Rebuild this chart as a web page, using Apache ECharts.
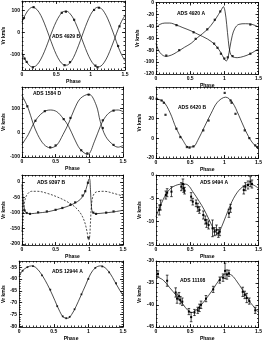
<!DOCTYPE html>
<html><head><meta charset="utf-8">
<script src="https://cdn.jsdelivr.net/npm/echarts@6/dist/echarts.min.js"></script>
<style>html,body{margin:0;padding:0;background:#fff}#c{width:265px;height:342px}</style>
</head><body><div id="c"></div>
<script>
// ---------- data ----------
const xTicks = [0, 0.5, 1, 1.5];

// Panel 1 (ADS 4929 B)
const p1Phase = [0,0.05,0.1,0.15,0.2,0.25,0.3,0.35,0.4,0.45,0.5,0.55,0.6,0.65,0.7,0.75,0.8,0.85,0.9,0.95,1,1.05,1.1,1.15,1.2,1.25,1.3,1.35,1.4,1.45,1.5];
const p1CurveA = [47,81,105,115,110,92,62,23,-20,-63,-101,-130,-147,-150,-139,-115,-79,-38,6,47,82,105,115,111,92,62,23,-20,-65,-102,-130];
const p1CurveB = [-93,-126,-148,-158,-154,-136,-107,-70,-28,14,50,78,95,97,86,63,29,-11,-53,-93,-126,-148,-158,-154,-136,-107,-69,-28,15,51,78];
const p1PointsA = [[0.03,66],[0.17,116],[0.62,-150],[0.70,-136],[1.05,103],[1.12,113],[1.40,-62]];
const p1PointsB = [[0.04,-120],[0.07,-135],[0.16,-160],[0.58,90],[0.64,95],[0.76,58],[1.07,-152],[1.10,-160],[1.42,28]];
const p1YTicks = [-100,0,100];

// Panel 2 (ADS 4920 A)
const p2CurveA = [[0,-42.2],[0.058,-36.7],[0.13,-34.5],[0.202,-34.5],[0.298,-37.8],[0.394,-42.2],[0.514,-47.7],[0.611,-53.2],[0.755,-61.4],[0.851,-69.6],[0.923,-79.5],[0.971,-88.8],[1.005,-95.9],[1.029,-98.1],[1.053,-92.6],[1.082,-75.1],[1.115,-55.9],[1.154,-43.3],[1.212,-36.7],[1.308,-35.6],[1.404,-36.7],[1.5,-41.1]];
const p2CurveB = [[0,-68.5],[0.034,-79.5],[0.082,-87.1],[0.144,-90.4],[0.226,-88.2],[0.298,-83.8],[0.418,-75.1],[0.514,-68.5],[0.611,-58.6],[0.755,-44.9],[0.851,-31.2],[0.913,-20.3],[0.957,-12.1],[0.986,-7.1],[1.01,-14.8],[1.034,-36.7],[1.058,-64.1],[1.082,-83.3],[1.115,-90.4],[1.188,-92.6],[1.284,-90.4],[1.38,-86],[1.5,-77.8]];
const p2PointsA = [[0.30,-38],[0.55,-50],[0.85,-69],[0.90,-76],[0.95,-86],[1.00,-94],[1.05,-92],[1.38,-37]];
const p2PointsB = [[0.15,-89],[0.34,-80],[0.58,-61],[0.75,-45],[0.86,-29],[0.94,-15],[1.12,-90],[1.38,-86]];
const p2YTicks = [-120,-100,-80,-60,-40,-20,0];

// Panel 3 (ADS 1584 D)
const p3CurveA = [[0,156],[0.094,101.5],[0.164,40.2],[0.234,-7.4],[0.328,-48.3],[0.422,-61.9],[0.516,-51],[0.609,-7.4],[0.694,40.2],[0.773,94.7],[0.867,142.3],[0.994,160],[1.102,115.1],[1.163,47],[1.242,-14.2],[1.359,-51],[1.43,-59.2],[1.5,-52.3]];
const p3CurveB = [[0,-48.3],[0.094,-7.4],[0.164,33.4],[0.234,63.4],[0.328,87.9],[0.422,94.7],[0.516,87.9],[0.609,60.7],[0.694,26.6],[0.773,-21],[0.867,-68.7],[0.975,-89.1],[1.078,-34.6],[1.163,26.6],[1.242,67.5],[1.336,90.6],[1.43,94.7],[1.5,87.9]];
const p3PointsA = [[0.08,110],[0.42,-60],[0.50,-52],[0.72,62],[0.99,158],[1.20,20],[1.36,-50]];
const p3PointsB = [[0.20,50],[0.34,90],[0.62,57],[0.88,-72],[0.97,-85],[1.20,52],[1.36,92]];
const p3YTicks = [-100,0,100];

// Panel 4 (ADS 6420 B)
const p4Curve = [[0,40],[0.106,37.3],[0.202,26.5],[0.298,9.7],[0.394,-2.1],[0.476,-8.9],[0.548,-8.5],[0.611,-2.1],[0.707,11.4],[0.803,24.8],[0.899,36.6],[1.019,41.7],[1.115,36.6],[1.212,23.2],[1.308,8],[1.404,-3.8],[1.5,-10.6]];
const p4Points = [[0.01,40],[0.082,38.3],[0.115,36],[0.139,23.8],[0.298,9.7],[0.356,1.2],[0.452,-8.9],[0.49,-9.5],[0.548,-8.2],[0.692,8],[0.769,18],[1.005,46],[1.091,38.3],[1.106,36],[1.163,24.8],[1.298,8],[1.365,0.2],[1.452,-7.2],[1.481,-8.9]];
const p4YTicks = [-20,0,20,40];

// Panel 5 (ADS 9397 B)
const p5CurveSolid = [[0,-7.6],[0.019,-56.5],[0.038,-89.1],[0.07,-100],[0.141,-102.2],[0.234,-100],[0.375,-96.7],[0.516,-89.1],[0.656,-80.4],[0.774,-69.6],[0.867,-56.5],[0.928,-37],[0.966,-13],[0.989,6.5],[1.003,10.9],[1.017,-23.9],[1.031,-78.3],[1.05,-97.8],[1.102,-102.2],[1.219,-100],[1.36,-96.7],[1.5,-91.3]];
const p5CurveDashed = [[0,-159.8],[0.019,-110.9],[0.038,-67.4],[0.07,-43.5],[0.141,-30.4],[0.234,-30.4],[0.375,-37],[0.516,-47.8],[0.656,-62],[0.774,-78.3],[0.867,-100],[0.928,-127.2],[0.966,-159.8],[0.989,-187],[1.003,-181.5],[1.017,-132.6],[1.031,-78.3],[1.055,-45.7],[1.102,-32.6],[1.219,-30.4],[1.36,-37],[1.5,-45.7]];
const p5Points = [[0.04,-92],[0.07,-100],[0.12,-103],[0.24,-98],[0.37,-95],[0.50,-90],[0.60,-84],[0.72,-74],[0.79,-66],[0.90,-44],[0.94,-30],[0.98,-3],[0.99,-180],[1.06,-99],[1.10,-103],[1.25,-99],[1.36,-95]];
const p5YTicks = [-200,-150,-100,-50,0];

// Panel 6 (ADS 9494 A)
const p6Curve = [[0,-8.93],[0.058,-6.79],[0.154,-3.93],[0.25,-2.5],[0.394,-1.93],[0.466,-2.14],[0.538,-3.57],[0.635,-5.71],[0.707,-7.5],[0.779,-9.64],[0.851,-11.79],[0.899,-12.5],[0.971,-10.71],[1.067,-7.14],[1.163,-4.29],[1.26,-2.64],[1.38,-1.93],[1.5,-2.86]];
const p6Points = [[0.048,-7.5,1.07],[0.067,-6.43,1.07],[0.144,-4.29,0.86],[0.163,-3.79,0.86],[0.226,-3.57,1.07],[0.37,-2.5,0.86],[0.394,-1.93,1.07],[0.404,-2.86,0.86],[0.418,-3.36,0.71],[0.514,-4.64,0.86],[0.538,-5.71,0.71],[0.587,-6.07,0.71],[0.611,-6.93,0.86],[0.635,-7.5,0.71],[0.692,-8.57,0.86],[0.721,-9.64,0.86],[0.74,-10.36,0.86],[0.769,-10.71,0.86],[0.827,-11.43,1.79],[0.856,-12.14,0.86],[0.885,-11.79,1.07],[0.913,-12.5,0.86],[0.933,-12.14,0.86],[1.067,-8.21,0.86],[1.091,-7.14,0.86],[1.284,-3.21,0.86],[1.308,-2.5,0.86],[1.346,-2.14,0.86],[1.38,-1.43,1.07],[1.404,-1.93,0.86]];
const p6YTicks = [-15,-10,-5,0];

// Panel 7 (ADS 12944 A)
const p7Curve = [[0,-58.95],[0.047,-56.58],[0.117,-55],[0.178,-54.47],[0.234,-55],[0.305,-57.24],[0.375,-60.53],[0.445,-64.47],[0.516,-69.08],[0.586,-73.68],[0.647,-76.32],[0.703,-76.58],[0.759,-75],[0.82,-71.71],[0.891,-67.11],[0.961,-62.5],[1.031,-57.89],[1.102,-55.26],[1.172,-54.47],[1.242,-55.26],[1.313,-57.63],[1.383,-61.18],[1.453,-64.74],[1.5,-66.84]];
const p7Points = [[0.05,-56.5],[0.12,-55],[0.2,-54.6],[0.33,-58.5],[0.45,-64.5],[0.55,-71.5],[0.63,-75.8],[0.68,-76.6],[0.73,-76],[0.8,-72.8],[0.9,-66.5],[1.0,-60],[1.1,-55.3],[1.2,-54.7],[1.3,-57.2],[1.4,-61.8]];
const p7YTicks = [-80,-75,-70,-65,-60,-55];

// Panel 8 (ADS 11108)
const p8Curve = [[0,-33.5],[0.106,-34.34],[0.202,-36.1],[0.298,-37.85],[0.394,-39.81],[0.466,-41.21],[0.529,-41.7],[0.611,-40.79],[0.707,-39.11],[0.827,-36.59],[0.923,-34.34],[1.019,-32.94],[1.091,-33.08],[1.163,-34.2],[1.284,-37.01],[1.38,-39.39],[1.5,-41.7]];
const p8Points = [[0.029,-32.94,0.7],[0.163,-34.48,1.26],[0.288,-37.15,1.05],[0.308,-38.55,1.05],[0.337,-37.99,0.84],[0.356,-38.9,0.84],[0.385,-39.25,0.84],[0.481,-41.49,0.7],[0.514,-42.75,1.05],[0.563,-41.7,0.7],[0.611,-41.21,0.7],[0.635,-40.65,0.84],[0.659,-39.95,0.84],[0.731,-38.55,0.7],[0.837,-36.45,0.7],[0.933,-34.34,0.7],[0.981,-33.78,0.84],[1.01,-32.24,1.75],[1.038,-33.08,1.05],[1.067,-32.8,0.7],[1.269,-37.01,1.05],[1.298,-37.71,0.84],[1.327,-38.41,1.05],[1.365,-39.11,0.7],[1.452,-41.21,0.7]];
const p8YTicks = [-45,-40,-35,-30];

// ---------- layout / style ----------
const FONT = '"Liberation Sans", Arial, sans-serif';
const INK = '#000';
const panels = [
  {grid:[18,1,107,69],  y:[-172,144], yTicks:p1YTicks, yMinor:20, col:0, title:'ADS 4929 B', tpos:[52,34]},
  {grid:[156,1,104,73], y:[-120,0],   yTicks:p2YTicks, yMinor:5,  col:1, title:'ADS 4920 A', tpos:[177,11]},
  {grid:[17,87,106,70], y:[-100,190], yTicks:p3YTicks, yMinor:20, col:0, title:'ADS 1584 D', tpos:[33,91]},
  {grid:[156,87,104,71],y:[-20,52],   yTicks:p4YTicks, yMinor:5,  col:1, title:'ADS 6420 B', tpos:[178,105]},
  {grid:[17,175,106,70],y:[-203,22],  yTicks:p5YTicks, yMinor:10, col:0, title:'ADS 9397 B', tpos:[37,180]},
  {grid:[156,175,104,70],y:[-15,0],   yTicks:p6YTicks, yMinor:1,  col:1, title:'ADS 9494 A', tpos:[200,180]},
  {grid:[17,261,106,71],y:[-80.3,-52.4],yTicks:p7YTicks,yMinor:1, col:0, title:'ADS 12944 A', tpos:[52,269]},
  {grid:[156,261,104,71],y:[-45,-30], yTicks:p8YTicks, yMinor:1,  col:1, title:'ADS 11108', tpos:[180,278]}
];

function minorVals(min, max, step) {
  const a = []; const s = Math.ceil(min / step - 1e-9);
  for (let k = s; k * step <= max + 1e-9; k++) a.push(+(k * step).toFixed(6));
  return a;
}

const grid = [], xAxis = [], yAxis = [], series = [], graphic = [];
const ls = {color: INK, width: 0.8};
const lblStyle = {fontSize: 5, fontWeight: 'bold', color: INK, fontFamily: FONT};

panels.forEach((P, i) => {
  grid.push({left: P.grid[0], top: P.grid[1], width: P.grid[2], height: P.grid[3], show: false});
  const xm = minorVals(0, 1.5, 0.05);
  const ym = minorVals(P.y[0], P.y[1], P.yMinor);
  const bx = {gridIndex: i, type: 'value', min: 0, max: 1.5, splitLine: {show: false}};
  const by = {gridIndex: i, type: 'value', min: P.y[0], max: P.y[1], splitLine: {show: false}};
  xAxis.push(Object.assign({}, bx, {position: 'bottom', axisLine: {show: true, onZero: false, lineStyle: ls},
    axisTick: {show: true, inside: true, length: 3, customValues: xTicks, lineStyle: ls},
    axisLabel: Object.assign({show: true, customValues: xTicks, margin: 2}, lblStyle),
    name: 'Phase', nameLocation: 'middle', nameGap: 9, nameTextStyle: lblStyle}));
  xAxis.push(Object.assign({}, bx, {position: 'bottom', axisLine: {show: false, onZero: false},
    axisTick: {show: true, inside: true, length: 1.5, customValues: xm, lineStyle: ls}, axisLabel: {show: false}}));
  xAxis.push(Object.assign({}, bx, {position: 'top', axisLine: {show: true, onZero: false, lineStyle: ls},
    axisTick: {show: true, inside: true, length: 3, customValues: xTicks, lineStyle: ls}, axisLabel: {show: false}}));
  xAxis.push(Object.assign({}, bx, {position: 'top', axisLine: {show: false, onZero: false},
    axisTick: {show: true, inside: true, length: 1.5, customValues: xm, lineStyle: ls}, axisLabel: {show: false}}));

  yAxis.push(Object.assign({}, by, {position: 'left', axisLine: {show: true, onZero: false, lineStyle: ls},
    axisTick: {show: true, inside: true, length: 3, customValues: P.yTicks, lineStyle: ls},
    axisLabel: Object.assign({show: true, customValues: P.yTicks, margin: 2}, lblStyle),
    name: 'Vr km/s', nameLocation: 'middle', nameGap: P.col === 0 ? 12 : 14, nameTextStyle: lblStyle}));
  yAxis.push(Object.assign({}, by, {position: 'left', axisLine: {show: false, onZero: false},
    axisTick: {show: true, inside: true, length: 1.5, customValues: ym, lineStyle: ls}, axisLabel: {show: false}}));
  yAxis.push(Object.assign({}, by, {position: 'right', axisLine: {show: true, onZero: false, lineStyle: ls},
    axisTick: {show: true, inside: true, length: 3, customValues: P.yTicks, lineStyle: ls}, axisLabel: {show: false}}));
  yAxis.push(Object.assign({}, by, {position: 'right', axisLine: {show: false, onZero: false},
    axisTick: {show: true, inside: true, length: 1.5, customValues: ym, lineStyle: ls}, axisLabel: {show: false}}));

  graphic.push({type: 'text', left: P.tpos[0], top: P.tpos[1],
    style: {text: P.title, font: 'bold 5px ' + FONT, fill: INK}});
});

function idx(i) { return {xAxisIndex: 4 * i, yAxisIndex: 4 * i}; }
function curve(i, data, dashed) {
  series.push(Object.assign({type: 'line', data: data, showSymbol: false, smooth: 0.35, silent: true,
    lineStyle: {color: INK, width: 0.7, type: dashed ? [2, 1.5] : 'solid'}}, idx(i)));
}
function pts(i, data, size) {
  series.push(Object.assign({type: 'scatter', data: data, symbol: 'rect', symbolSize: size || 2.2,
    itemStyle: {color: INK}, silent: true}, idx(i)));
}
function errBars(i, data) {
  series.push(Object.assign({type: 'custom', data: data, silent: true, encode: {x: 0, y: 1},
    renderItem: function (params, api) {
      const x = api.value(0), y = api.value(1), e = api.value(2);
      const t = api.coord([x, y + e]), b = api.coord([x, y - e]), c = api.coord([x, y]);
      const w = 1.3, st = {stroke: INK, lineWidth: 0.7};
      return {type: 'group', children: [
        {type: 'line', shape: {x1: t[0], y1: t[1], x2: b[0], y2: b[1]}, style: st},
        {type: 'line', shape: {x1: t[0] - w, y1: t[1], x2: t[0] + w, y2: t[1]}, style: st},
        {type: 'line', shape: {x1: b[0] - w, y1: b[1], x2: b[0] + w, y2: b[1]}, style: st},
        {type: 'rect', shape: {x: c[0] - 1, y: c[1] - 1, width: 2, height: 2}, style: {fill: INK}}
      ]};
    }}, idx(i)));
}

curve(0, p1Phase.map((p, k) => [p, p1CurveA[k]]));
curve(0, p1Phase.map((p, k) => [p, p1CurveB[k]]));
pts(0, p1PointsA); pts(0, p1PointsB);

curve(1, p2CurveA); curve(1, p2CurveB);
pts(1, p2PointsA); pts(1, p2PointsB);

curve(2, p3CurveA); curve(2, p3CurveB);
pts(2, p3PointsA); pts(2, p3PointsB);

curve(3, p4Curve); pts(3, p4Points);

curve(4, p5CurveSolid); curve(4, p5CurveDashed, true); pts(4, p5Points);

curve(5, p6Curve); errBars(5, p6Points);

curve(6, p7Curve); pts(6, p7Points, 1.8);

curve(7, p8Curve); errBars(7, p8Points);

const chart = echarts.init(document.getElementById('c'), null, {renderer: 'canvas'});
chart.setOption({animation: false, backgroundColor: '#fff', grid, xAxis, yAxis, series, graphic});
</script></body></html>
